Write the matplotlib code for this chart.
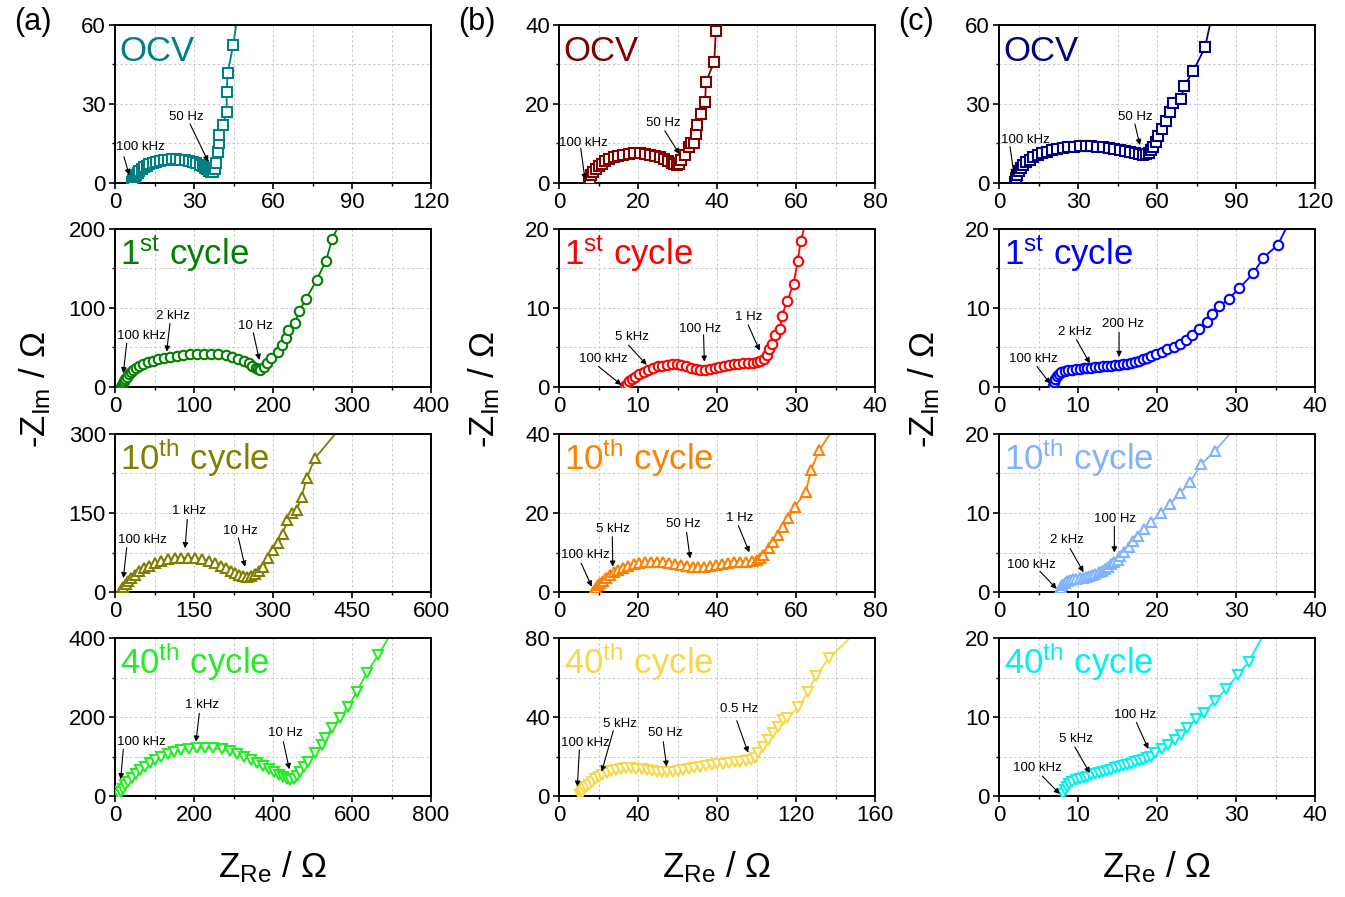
import matplotlib

matplotlib.use("Agg")
import matplotlib.pyplot as plt
from matplotlib.ticker import MultipleLocator

plt.rcParams["font.family"] = ["Liberation Sans", "DejaVu Sans"]
plt.rcParams["mathtext.fontset"] = "custom"
plt.rcParams["mathtext.rm"] = "Liberation Sans"
plt.rcParams["mathtext.it"] = "Liberation Sans:italic"
plt.rcParams["mathtext.bf"] = "Liberation Sans:bold"

# ---- (a) column -------------------------------------------------------------
a_ocv_x = [6.5, 7.0, 7.5, 8.0, 8.6, 9.3, 10.1, 11.0, 12.0, 13.1, 14.3, 15.6, 17.0, 18.5,
           20.0, 21.6, 23.2, 24.8, 26.4, 28.0, 29.5, 30.9, 32.2, 33.3, 34.3, 35.1, 35.8,
           36.3, 36.8, 37.3, 37.8, 38.4, 39.2, 39.6, 39.6, 40.9, 42.4, 42.4, 42.8, 44.9]
a_ocv_y = [0.3, 1.2, 2.1, 3.0, 3.8, 4.6, 5.3, 6.0, 6.6, 7.1, 7.6, 8.0, 8.4, 8.7, 8.9, 9.0,
           9.0, 8.9, 8.7, 8.4, 8.0, 7.5, 7.0, 6.4, 5.8, 5.2, 4.6, 4.2, 4.0, 4.2, 5.2, 7.5,
           11.9, 15.2, 18.4, 22.0, 27.0, 34.7, 41.9, 52.4]
a_ocv_fit_x = [46.0, 46.5]
a_ocv_fit_y = [60.0, 63.0]

a_c1_x = [8, 9, 10, 11.5, 13, 15, 17.5, 20, 23, 27, 31, 36, 42, 48, 55, 62, 70, 78, 86, 95,
          104, 113, 122, 131, 140, 148, 156, 163, 169, 174, 178, 181, 184, 188, 192, 197,
          206.7, 211, 217, 219.4, 227.8, 233.3, 241.8, 255.3, 267, 275]
a_c1_y = [0.5, 3, 5.5, 8, 10.5, 13, 16, 18.5, 21, 24, 26.5, 29, 31.5, 33.5, 35.5, 37, 38.5,
          39.5, 40.5, 41.5, 42, 42.3, 42, 41.3, 40, 38.3, 36, 33, 30, 27, 24.5, 22.5, 22, 25,
          30, 37, 44.7, 53, 61.6, 72, 80.6, 96.6, 111.4, 135.5, 159.5, 187.4]
a_c1_fit_x = [281, 284]
a_c1_fit_y = [200, 212]

a_c10_x = [10, 13, 16, 20, 25, 31, 38, 46, 55, 65, 76, 88, 100, 113, 126, 139, 152, 165,
           178, 190, 201, 211, 220, 228, 236, 243, 250, 258, 266, 274, 281.9, 291.4, 300.8,
           310.3, 318.5, 327.4, 335.6, 345, 354.3, 363.8, 379.7]
a_c10_y = [0.5, 5, 10, 15, 21, 27, 33, 39, 45, 50, 55, 59, 62, 64, 65, 65, 64, 62, 59, 55,
           50, 45, 40, 36, 32, 30, 29, 30, 34, 40, 48, 64, 79.7, 92.5, 111, 136.7, 149.4,
           155.7, 181, 215.9, 253.8]
a_c10_fit_x = [418, 426]
a_c10_fit_y = [300, 313]

a_c40_x = [10, 14, 19, 25, 33, 42, 52, 63, 75, 88, 102, 117, 133, 150, 168, 187, 207, 228,
           249, 270, 290, 309, 327, 344, 360, 375, 389, 402, 414, 425, 435, 443, 452, 460,
           468, 478, 489, 506, 523, 532, 548.5, 569.6, 590.6, 611.8, 637, 666.6]
a_c40_y = [2, 10, 18, 27, 36, 46, 55, 65, 74, 83, 91, 99, 106, 112, 117, 120, 122, 122, 121,
           118, 113, 107, 100, 92, 84, 76, 68, 60, 53, 47, 42, 40, 42, 50, 61.5, 74, 87, 108,
           129, 146, 172, 197, 226, 264, 311, 357]
a_c40_fit_x = [692, 700]
a_c40_fit_y = [400, 414]

# ---- (b) column -------------------------------------------------------------
b_ocv_x = [7.5, 7.8, 8.2, 8.7, 9.3, 10.0, 10.8, 11.7, 12.7, 13.8, 15.0, 16.3, 17.6, 19.0,
           20.4, 21.8, 23.1, 24.4, 25.6, 26.7, 27.7, 28.5, 29.2, 29.8, 30.4, 31.0, 31.9,
           33.0, 33.3, 34.2, 34.7, 35.0, 35.9, 37.0, 37.2, 39.3, 39.7]
b_ocv_y = [0.3, 1.1, 1.9, 2.7, 3.5, 4.2, 4.9, 5.5, 6.0, 6.5, 6.9, 7.2, 7.4, 7.5, 7.5, 7.4,
           7.2, 6.9, 6.5, 6.0, 5.5, 5.1, 4.8, 4.6, 4.9, 5.8, 7.1, 9.2, 10.0, 10.2, 12.4, 14.7,
           17.5, 20.6, 25.6, 30.7, 38.4]
b_ocv_fit_x = [40.0, 40.2]
b_ocv_fit_y = [40.0, 42.0]

b_c1_x = [8.4, 8.6, 8.9, 9.2, 9.6, 10.1, 10.7, 11.3, 11.9, 12.5, 13.1, 13.7, 14.3, 14.9,
          15.5, 16.1, 16.7, 17.3, 17.9, 18.5, 19.1, 19.7, 20.3, 20.9, 21.5, 22.1, 22.7, 23.3,
          23.9, 24.5, 25.0, 25.5, 25.9, 26.3, 26.6, 26.9, 27.3, 28.0, 28.2, 28.9, 29.7, 30.2,
          30.6]
b_c1_y = [0.1, 0.4, 0.7, 1.0, 1.3, 1.6, 1.9, 2.2, 2.4, 2.6, 2.7, 2.8, 2.85, 2.85, 2.8, 2.65,
          2.45, 2.25, 2.1, 2.1, 2.25, 2.4, 2.55, 2.7, 2.8, 2.9, 2.95, 3.0, 3.05, 3.1, 3.2,
          3.35, 3.6, 4.05, 4.8, 5.5, 6.6, 7.4, 9.0, 10.9, 13.1, 15.9, 18.5]
b_c1_fit_x = [31.0, 31.2]
b_c1_fit_y = [20.0, 21.0]

b_c10_x = [8.7, 9.0, 9.4, 9.9, 10.5, 11.2, 12.0, 12.9, 13.9, 15.0, 16.2, 17.5, 18.9, 20.3,
           21.8, 23.3, 24.8, 26.3, 27.8, 29.3, 30.8, 32.3, 33.8, 35.3, 36.8, 38.3, 39.8, 41.3,
           42.8, 44.3, 45.8, 47.3, 48.8, 50.1, 51.0, 51.7, 53.2, 54.1, 55.5, 56.8, 58.1, 59.7,
           62.5, 63.8, 65.9]
b_c10_y = [0.1, 0.6, 1.1, 1.7, 2.3, 2.9, 3.6, 4.3, 5.0, 5.6, 6.2, 6.7, 7.1, 7.4, 7.6, 7.7,
           7.7, 7.6, 7.4, 7.1, 6.8, 6.5, 6.3, 6.3, 6.4, 6.6, 6.9, 7.1, 7.3, 7.5, 7.6, 7.7, 7.8,
           8.1, 8.6, 9.4, 11.1, 12.7, 14.4, 16.5, 18.7, 21.6, 25.4, 30.9, 35.9]
b_c10_fit_x = [68.6, 69.5]
b_c10_fit_y = [40.0, 42.0]

b_c40_x = [10.5, 11, 11.7, 12.6, 13.7, 15, 16.5, 18.2, 20, 22, 24.2, 26.5, 29, 31.5, 34,
           36.6, 39.2, 41.8, 44.4, 47, 49.6, 52.2, 54.8, 57.5, 60.2, 63, 65.8, 68.6, 71.5,
           74.4, 77.3, 80.2, 83.1, 86, 88.9, 91.8, 94.5, 97, 99.2, 101, 103.4, 106, 108.2,
           111, 113.6, 115.6, 121.2, 126.2, 130, 136.7]
b_c40_y = [0.3, 1.2, 2.2, 3.3, 4.5, 5.8, 7.1, 8.4, 9.6, 10.7, 11.7, 12.5, 13.2, 13.7, 14,
           14.1, 13.9, 13.5, 13.1, 12.6, 12.2, 12, 12, 12.3, 12.8, 13.3, 13.9, 14.4, 14.9,
           15.3, 15.7, 16.1, 16.4, 16.7, 17, 17.3, 17.7, 18.3, 19.2, 21.6, 25, 28.4, 31.7, 35,
           38.5, 39.3, 44.9, 52.8, 60.9, 69.7]
b_c40_fit_x = [147.3, 149.0]
b_c40_fit_y = [80.0, 83.0]

# ---- (c) column -------------------------------------------------------------
c_ocv_x = [6.2, 6.5, 7.0, 7.6, 8.4, 9.3, 10.4, 11.7, 13.1, 14.7, 16.4, 18.2, 20.1, 22.1,
           24.2, 26.3, 28.5, 30.7, 32.9, 35.1, 37.3, 39.5, 41.7, 43.8, 45.9, 47.9, 49.8, 51.6,
           53.2, 54.6, 55.8, 56.8, 57.7, 58.6, 59.6, 60.5, 61.8, 63.4, 64.9, 65.9, 69.1, 70.3,
           73.8, 78.2]
c_ocv_y = [0.4, 1.8, 3.2, 4.5, 5.7, 6.8, 7.9, 8.9, 9.8, 10.6, 11.3, 11.9, 12.5, 12.9, 13.3,
           13.6, 13.8, 13.9, 13.9, 13.9, 13.8, 13.6, 13.3, 13.0, 12.6, 12.2, 11.8, 11.3, 11.0,
           10.8, 10.9, 11.4, 12.4, 13.8, 15.7, 17.9, 20.5, 23.7, 27.1, 30.3, 31.8, 36.8, 42.5,
           51.5]
c_ocv_fit_x = [80.1, 81.0]
c_ocv_fit_y = [60.0, 63.0]

c_c1_x = [6.8, 6.9, 7.1, 7.3, 7.6, 7.9, 8.3, 8.7, 9.2, 9.7, 10.2, 10.7, 11.2, 11.7, 12.2,
          12.7, 13.2, 13.7, 14.2, 14.7, 15.2, 15.7, 16.2, 16.7, 17.2, 17.7, 18.2, 18.7, 19.3,
          19.9, 20.6, 21.3, 22.1, 22.9, 23.7, 24.4, 25.3, 26.3, 27.0, 27.9, 29.1, 30.4, 32.2,
          33.4, 35.3]
c_c1_y = [0.1, 0.6, 1.0, 1.35, 1.65, 1.85, 2.0, 2.1, 2.2, 2.25, 2.3, 2.35, 2.4, 2.45, 2.5,
          2.55, 2.6, 2.65, 2.7, 2.75, 2.8, 2.85, 2.95, 3.05, 3.2, 3.35, 3.5, 3.7, 3.9, 4.15,
          4.4, 4.75, 5.1, 5.5, 6.0, 6.6, 7.3, 8.2, 9.2, 10.2, 11.2, 12.5, 14.4, 16.3, 18.0]
c_c1_fit_x = [36.3, 36.8]
c_c1_fit_y = [20.0, 21.0]

c_c10_x = [7.6, 7.8, 8.0, 8.3, 8.6, 9.0, 9.4, 9.8, 10.2, 10.6, 11.0, 11.4, 11.8, 12.2, 12.6,
           13.0, 13.4, 13.8, 14.2, 14.6, 15.0, 15.3, 15.8, 16.4, 17.0, 17.6, 18.4, 19.3, 20.5,
           21.7, 22.9, 24.2, 25.6, 27.3]
c_c10_y = [0.1, 0.5, 0.85, 1.15, 1.4, 1.55, 1.65, 1.7, 1.75, 1.8, 1.9, 2.0, 2.15, 2.3, 2.5,
           2.7, 2.95, 3.2, 3.5, 3.8, 4.1, 4.5, 5.1, 5.7, 6.4, 7.1, 8.0, 8.9, 10.0, 11.2, 12.5,
           13.9, 16.2, 17.8]
c_c10_fit_x = [29.2, 29.6]
c_c10_fit_y = [20.0, 21.0]

c_c40_x = [8.1, 8.3, 8.6, 8.9, 9.3, 9.7, 10.2, 10.7, 11.2, 11.7, 12.2, 12.7, 13.2, 13.7,
           14.2, 14.7, 15.2, 15.7, 16.2, 16.7, 17.2, 17.7, 18.2, 18.7, 19.2, 19.75, 20.6,
           21.4, 22.3, 23.0, 23.8, 24.9, 25.9, 27.3, 28.7, 30.2, 31.6]
c_c40_y = [0.3, 0.8, 1.2, 1.55, 1.8, 2.0, 2.15, 2.3, 2.45, 2.6, 2.75, 2.9, 3.05, 3.2, 3.35,
           3.5, 3.65, 3.8, 3.95, 4.1, 4.25, 4.4, 4.55, 4.75, 5.0, 5.5, 5.9, 6.45, 7.1, 7.7,
           8.6, 9.8, 10.5, 12.0, 13.5, 15.3, 17.0]
c_c40_fit_x = [33.25, 33.6]
c_c40_fit_y = [20.0, 21.0]

TITLES = ["OCV", r"1$^{\mathregular{st}}$ cycle", r"10$^{\mathregular{th}}$ cycle",
          r"40$^{\mathregular{th}}$ cycle"]
MARKERS = ["s", "o", "^", "v"]
COLORS = {
    "a": ["#008080", "#008000", "#808000", "#22EE22"],
    "b": ["#800000", "#FF0000", "#FF8000", "#F8D84A"],
    "c": ["#000080", "#0000FF", "#80B2FF", "#00F2F2"],
}
# (xmax, xmajor, ymax, ymajor) per panel
LIMITS = {
    "a": [(120, 30, 60, 30), (400, 100, 200, 100), (600, 150, 300, 150), (800, 200, 400, 200)],
    "b": [(80, 20, 40, 20), (40, 10, 20, 10), (80, 20, 40, 20), (160, 40, 80, 40)],
    "c": [(120, 30, 60, 30), (40, 10, 20, 10), (40, 10, 20, 10), (40, 10, 20, 10)],
}
SERIES = {
    "a": [(a_ocv_x, a_ocv_y, a_ocv_fit_x, a_ocv_fit_y), (a_c1_x, a_c1_y, a_c1_fit_x, a_c1_fit_y),
          (a_c10_x, a_c10_y, a_c10_fit_x, a_c10_fit_y), (a_c40_x, a_c40_y, a_c40_fit_x, a_c40_fit_y)],
    "b": [(b_ocv_x, b_ocv_y, b_ocv_fit_x, b_ocv_fit_y), (b_c1_x, b_c1_y, b_c1_fit_x, b_c1_fit_y),
          (b_c10_x, b_c10_y, b_c10_fit_x, b_c10_fit_y), (b_c40_x, b_c40_y, b_c40_fit_x, b_c40_fit_y)],
    "c": [(c_ocv_x, c_ocv_y, c_ocv_fit_x, c_ocv_fit_y), (c_c1_x, c_c1_y, c_c1_fit_x, c_c1_fit_y),
          (c_c10_x, c_c10_y, c_c10_fit_x, c_c10_fit_y), (c_c40_x, c_c40_y, c_c40_fit_x, c_c40_fit_y)],
}

# frequency notes: (label, text xy, arrow tail, arrow tip), data coords
NOTES = {
    "a": [
        [("100 kHz", (9.5, 13.8), (3.4, 10.0), (5.4, 3.0)),
         ("50 Hz", (27.2, 25.2), (28.5, 22.4), (35.4, 8.1))],
        [("100 kHz", (32.9, 64.6), (14.8, 55.3), (10.5, 17.3)),
         ("2 kHz", (73, 89.9), (69.6, 80.6), (65.4, 44.7)),
         ("10 Hz", (177.2, 77.2), (175.1, 68.7), (182.7, 34.2))],
        [("100 kHz", (52.6, 98.7), (22.2, 84.2), (15.8, 26)),
         ("1 kHz", (141.1, 153.8), (137.3, 138), (132.9, 83)),
         ("10 Hz", (237.4, 115.8), (234.2, 103.1), (246.9, 48))],
        [("100 kHz", (67.5, 137.5), (21, 118), (14.3, 42.3)),
         ("1 kHz", (219.4, 230.4), (213.5, 209.4), (205, 137.5)),
         ("10 Hz", (430.4, 160.3), (426.2, 137.5), (441.4, 67.6))],
    ],
    "b": [
        [("100 kHz", (6.2, 10.1), (5.5, 8.8), (6.6, 0.8)),
         ("50 Hz", (26.4, 15.1), (26.8, 13.2), (30.5, 7.3))],
        [("100 kHz", (5.6, 3.5), (5.0, 2.6), (7.9, 0.25)),
         ("5 kHz", (9.2, 6.3), (8.8, 5.3), (11.1, 2.8)),
         ("100 Hz", (17.85, 7.4), (18.3, 6.6), (18.4, 3.2)),
         ("1 Hz", (23.95, 8.8), (23.95, 7.85), (25.4, 4.6))],
        [("100 kHz", (6.6, 9.4), (5.6, 7.3), (8.3, 1.35)),
         ("5 kHz", (13.75, 15.95), (13.5, 14), (13.6, 6.4)),
         ("50 Hz", (31.5, 17.1), (32.3, 15.1), (33.2, 8.5)),
         ("1 Hz", (45.65, 18.8), (45.4, 16.8), (48.2, 10.05))],
        [("100 kHz", (13.2, 27), (10.3, 23.3), (9.3, 4.7)),
         ("5 kHz", (30.9, 36.3), (27.5, 33.1), (21.6, 12.3)),
         ("50 Hz", (53.7, 32.1), (52.8, 27.5), (54.5, 14.8)),
         ("0.5 Hz", (91.3, 43.9), (90, 38.1), (95.8, 21.9))],
    ],
    "c": [
        [("100 kHz", (9.9, 16.3), (4.2, 13.8), (5.7, 3.0)),
         ("50 Hz", (51.6, 25.2), (51.6, 22.4), (53.5, 14.4))],
        [("100 kHz", (4.3, 3.5), (4.8, 2.6), (6.5, 0.4)),
         ("2 kHz", (9.6, 7.0), (9.8, 6.0), (11.5, 3.0)),
         ("200 Hz", (15.7, 8.0), (15.2, 6.9), (15.2, 3.8))],
        [("100 kHz", (4.1, 3.4), (5.2, 2.6), (7.3, 0.4)),
         ("2 kHz", (8.65, 6.6), (9.0, 5.5), (10.7, 2.5)),
         ("100 Hz", (14.7, 9.3), (14.6, 8.3), (14.6, 5.0))],
        [("100 kHz", (4.85, 3.5), (5.5, 2.5), (7.7, 0.25)),
         ("5 kHz", (9.8, 7.2), (9.6, 6.2), (11.5, 2.9)),
         ("100 Hz", (17.2, 10.25), (17.4, 9.3), (18.9, 5.95))],
    ],
}

W, H = 1345, 897
COL_LEFT = {"a": 115, "b": 559, "c": 999}
ROW_TOP = [25, 229, 434, 638]
AX_W, AX_H = 316, 158

fig = plt.figure(figsize=(W / 100, H / 100), dpi=100)

for col in ("a", "b", "c"):
    for row in range(4):
        rect = [COL_LEFT[col] / W, 1 - (ROW_TOP[row] + AX_H) / H, AX_W / W, AX_H / H]
        ax = fig.add_axes(rect)
        x, y, fx, fy = SERIES[col][row]
        color = COLORS[col][row]
        ax.plot(list(x) + list(fx), list(y) + list(fy), "-", color=color, lw=1.3, zorder=2)
        ax.plot(x, y, ls="none", marker=MARKERS[row], ms=6.8, mfc="white", mec=color,
                mew=1.5, zorder=3)

        xmax, xmaj, ymax, ymaj = LIMITS[col][row]
        ax.set_xlim(0, xmax)
        ax.set_ylim(0, ymax)
        ax.xaxis.set_major_locator(MultipleLocator(xmaj))
        ax.xaxis.set_minor_locator(MultipleLocator(xmaj / 2))
        ax.yaxis.set_major_locator(MultipleLocator(ymaj))
        ax.yaxis.set_minor_locator(MultipleLocator(ymaj / 2))
        ax.grid(True, which="both", ls=(0, (2.5, 2.5)), lw=0.7, color="#c8c8c8")
        ax.set_axisbelow(True)
        ax.tick_params(which="major", direction="out", length=4, width=1.2,
                       labelsize=16, pad=2.5)
        ax.tick_params(which="minor", direction="out", length=2.5, width=1.0)
        for s in ax.spines.values():
            s.set_linewidth(1.4)

        ax.text(0.015, 0.77, TITLES[row], transform=ax.transAxes, ha="left",
                va="baseline", fontsize=25, color=color, zorder=5)

        for label, txy, tail, tip in NOTES[col][row]:
            ax.text(txy[0], txy[1], label, ha="center", va="center", fontsize=9.5, zorder=6)
            ax.annotate("", xy=tip, xytext=tail,
                        arrowprops=dict(arrowstyle="-|>", color="black", lw=0.8,
                                        mutation_scale=8, shrinkA=0, shrinkB=0),
                        zorder=6)

# panel letters, shared axis labels
for col, cx in (("a", 33), ("b", 477), ("c", 916)):
    fig.text(cx / W, 1 - 22 / H, f"({col})", ha="center", va="center", fontsize=22)
for cx in (35, 484, 924):
    fig.text(cx / W, 1 - 390 / H, r"-Z$_{\mathregular{Im}}$ / Ω", rotation=90,
             ha="center", va="center", fontsize=25)
for col in ("a", "b", "c"):
    cx = COL_LEFT[col] + AX_W / 2
    fig.text(cx / W, 1 - 877 / H, r"Z$_{\mathregular{Re}}$ / Ω", ha="center",
             va="baseline", fontsize=25)

fig.savefig("out.png", dpi=100)
